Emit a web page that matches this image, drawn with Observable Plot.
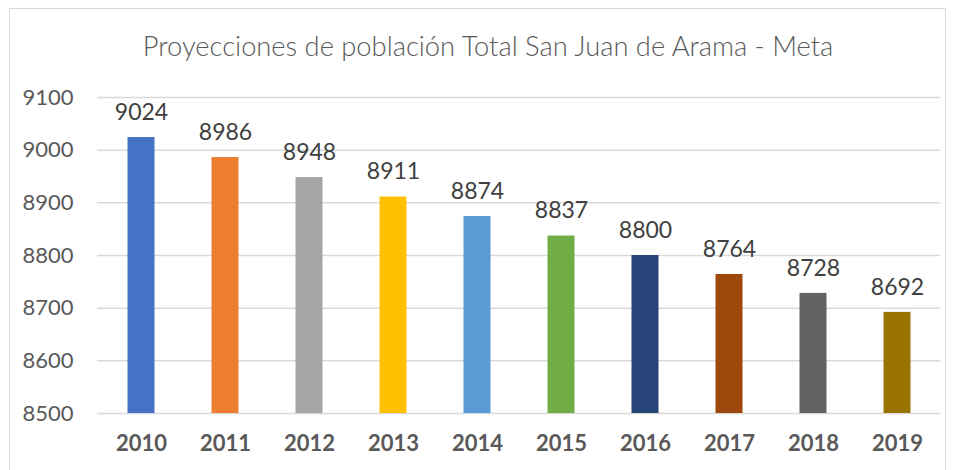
<!DOCTYPE html>
<html>
<head>
<meta charset="utf-8">
<script src="https://cdn.jsdelivr.net/npm/d3@7"></script>
<script src="https://cdn.jsdelivr.net/npm/@observablehq/plot@0.6"></script>
<style>
  body { margin: 0; background: #fff; font-family: Lato, "Open Sans", sans-serif; }
  #wrap { position: relative; width: 955px; height: 470px; overflow: hidden; }
  #frame { position: absolute; left: 9px; top: 8px; width: 937px; height: 480px; border: 1px solid #d9d9d9; box-sizing: border-box; }
  #title { position: absolute; left: 0; width: 976px; top: 29px; text-align: center; font-size: 27.3px; color: #595959; font-weight: 300; }
  #chart { position: absolute; left: 0; top: 0; }
</style>
</head>
<body>
<div id="wrap">
  <div id="frame"></div>
  <div id="title">Proyecciones de población Total San Juan de Arama - Meta</div>
  <div id="chart"></div>
</div>
<script>
const years = ["2010","2011","2012","2013","2014","2015","2016","2017","2018","2019"];
const population = [9024, 8986, 8948, 8911, 8874, 8837, 8800, 8764, 8728, 8692];
const barColors = ["#4472C4","#ED7D31","#A5A5A5","#FFC000","#5B9BD5","#70AD47","#264478","#9E480E","#636363","#997300"];
const yTicks = [8500, 8600, 8700, 8800, 8900, 9000, 9100];

const data = years.map((y, i) => ({year: y, value: population[i], color: barColors[i]}));

const chart = Plot.plot({
  width: 955,
  height: 470,
  marginTop: 97,
  marginBottom: 57,
  marginLeft: 97,
  marginRight: 15,
  style: {fontFamily: "Lato, 'Open Sans', sans-serif", background: "transparent", overflow: "visible"},
  x: {domain: years, padding: 0, label: null, tickSize: 0},
  y: {domain: [8500, 9100], label: null, tickSize: 0},
  marks: [
    Plot.gridY(yTicks, {stroke: "#d9d9d9", strokeOpacity: 1, strokeWidth: 1.5}),
    Plot.barY(data, {x: "year", y1: 8500, y2: "value", fill: "color", insetLeft: 28.5, insetRight: 28.5}),
    Plot.text(data, {x: "year", y: "value", text: d => String(d.value), dy: -25, fill: "#404040", fontSize: 23}),
    Plot.axisY({ticks: yTicks, tickFormat: d => String(d), tickSize: 0, tickPadding: 24, fontSize: 22, fill: "#595959", label: null}),
    Plot.axisX({tickSize: 0, tickPadding: 22, fontSize: 22, fontWeight: "bold", fill: "#595959", label: null})
  ]
});
document.getElementById("chart").appendChild(chart);
</script>
</body>
</html>
